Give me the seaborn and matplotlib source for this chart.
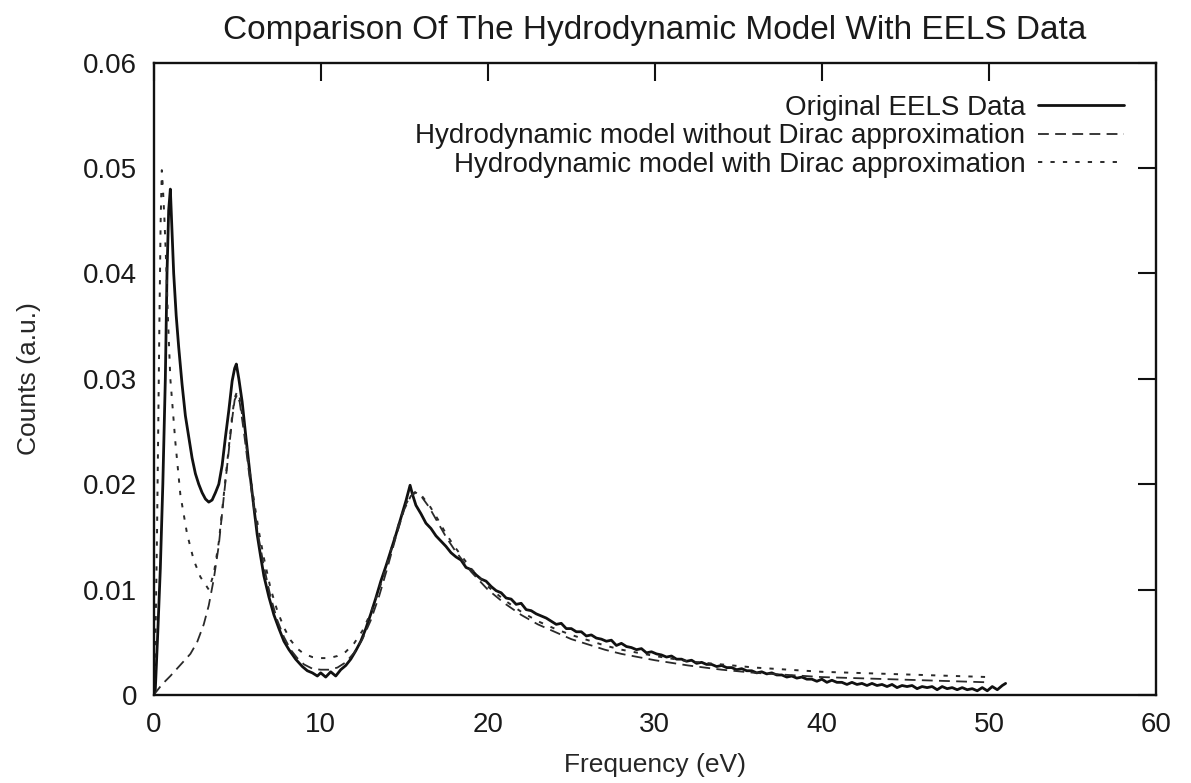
import matplotlib
matplotlib.use("Agg")
import matplotlib.pyplot as plt
import seaborn as sns

# ---------------- data ----------------
eels_x = [0.0, 0.1, 0.25, 0.4, 0.55, 0.7, 0.8, 0.9, 1.0, 1.1, 1.2, 1.35, 1.5, 1.7, 1.9,
          2.1, 2.3, 2.5, 2.7, 2.9, 3.1, 3.3, 3.5, 3.7, 3.9, 4.1, 4.3, 4.5, 4.7, 4.85,
          4.95, 5.1, 5.3, 5.5, 5.8, 6.0, 6.2, 6.4, 6.6, 6.9, 7.2, 7.5, 7.8, 8.1, 8.5,
          8.9, 9.2, 9.5, 9.8, 10.0, 10.3, 10.6, 10.9, 11.2, 11.5, 11.8, 12.1, 12.4, 12.7,
          13.0, 13.3, 13.6, 13.9, 14.2, 14.5, 14.8, 15.1, 15.35, 15.5, 15.7, 16.0, 16.3,
          16.6, 16.9, 17.2, 17.5, 17.8, 18.1, 18.4, 18.7, 19.0, 19.3, 19.6, 19.9, 20.2,
          20.5, 20.8, 21.1, 21.4, 21.7, 22.0, 22.3, 22.6, 22.9, 23.2, 23.5, 23.8, 24.1,
          24.4, 24.7, 25.0, 25.3, 25.6, 25.9, 26.2, 26.5, 26.8, 27.1, 27.4, 27.7, 28.0,
          28.3, 28.6, 28.9, 29.2, 29.5, 29.8, 30.1, 30.4, 30.7, 31.0, 31.3, 31.6, 31.9,
          32.2, 32.5, 32.8, 33.1, 33.4, 33.7, 34.0, 34.3, 34.6, 34.9, 35.2, 35.5, 35.8,
          36.1, 36.4, 36.7, 37.0, 37.3, 37.6, 37.9, 38.2, 38.5, 38.8, 39.1, 39.4, 39.7,
          40.0, 40.3, 40.6, 40.9, 41.2, 41.5, 41.8, 42.1, 42.4, 42.7, 43.0, 43.3, 43.6,
          43.9, 44.2, 44.5, 44.8, 45.1, 45.4, 45.7, 46.0, 46.3, 46.6, 46.9, 47.2, 47.5,
          47.8, 48.1, 48.4, 48.7, 49.0, 49.3, 49.6, 49.9, 50.2, 50.5, 50.8, 51.0]
eels_y = [0.0, 0.0005, 0.006, 0.012, 0.020, 0.030, 0.040, 0.046, 0.048, 0.044, 0.040, 0.036,
          0.033, 0.0295, 0.0265, 0.0245, 0.0225, 0.0210, 0.0200, 0.0192, 0.0186, 0.0183,
          0.0185, 0.0192, 0.0200, 0.0218, 0.0245, 0.0270, 0.0298, 0.0310, 0.0314, 0.0300,
          0.0278, 0.0248, 0.0205, 0.0178, 0.0152, 0.0132, 0.0113, 0.0093, 0.0076, 0.0063,
          0.0051, 0.0043, 0.0034, 0.0027, 0.0023, 0.0021, 0.0018, 0.0021, 0.0017, 0.0022,
          0.0018, 0.0024, 0.0028, 0.0034, 0.0042, 0.0051, 0.0063, 0.0077, 0.0092, 0.0108,
          0.0122, 0.0137, 0.0152, 0.0168, 0.0184, 0.0199, 0.0190, 0.0180, 0.0172, 0.0163,
          0.0158, 0.0151, 0.0146, 0.0141, 0.0135, 0.0131, 0.0128, 0.0121, 0.0119, 0.0114,
          0.0110, 0.0108, 0.0103, 0.0099, 0.0097, 0.0092, 0.0091, 0.0086, 0.0087, 0.0081,
          0.0080, 0.0077, 0.0075, 0.0073, 0.0070, 0.0067, 0.0068, 0.0063, 0.0063, 0.0060,
          0.0060, 0.0056, 0.0057, 0.0054, 0.0053, 0.0051, 0.0052, 0.0047, 0.0049, 0.0046,
          0.0045, 0.0043, 0.0044, 0.0040, 0.0041, 0.0039, 0.0038, 0.0036, 0.0037, 0.0034,
          0.0034, 0.0032, 0.0033, 0.0030, 0.0031, 0.0029, 0.0029, 0.0027, 0.0028, 0.0026,
          0.0026, 0.0024, 0.0025, 0.0023, 0.0023, 0.0021, 0.0022, 0.0020, 0.0021, 0.0019,
          0.0019, 0.0017, 0.0018, 0.0016, 0.0017, 0.0015, 0.0015, 0.0013, 0.0015, 0.0012,
          0.0014, 0.0012, 0.0012, 0.0010, 0.0012, 0.0010, 0.0011, 0.0009, 0.0011, 0.0009,
          0.0010, 0.0008, 0.0010, 0.0007, 0.0009, 0.0008, 0.0009, 0.0006, 0.0008, 0.0007,
          0.0008, 0.0005, 0.0008, 0.0006, 0.0007, 0.0005, 0.0007, 0.0005, 0.0006, 0.0004,
          0.0007, 0.0004, 0.0008, 0.0005, 0.0009, 0.0011]

nodirac_x = [0.0, 0.5, 1.0, 1.4, 1.8, 2.2, 2.6, 3.0, 3.3, 3.6, 3.9, 4.2, 4.5, 4.7, 4.85,
             5.0, 5.15, 5.4, 5.7, 6.0, 6.3, 6.6, 7.0, 7.4, 7.8, 8.2, 8.6, 9.0, 9.5, 10.0,
             10.5, 11.0, 11.5, 12.0, 12.5, 13.0, 13.5, 14.0, 14.5, 15.0, 15.4, 15.7, 16.0,
             16.5, 17.0, 17.5, 18.0, 19.0, 20.0, 21.0, 22.0, 23.0, 24.0, 25.0, 26.0, 27.0,
             28.0, 29.0, 30.0, 32.0, 34.0, 36.0, 38.0, 40.0, 42.0, 44.0, 46.0, 48.0, 50.0]
nodirac_y = [0.0, 0.0010, 0.0018, 0.0025, 0.0032, 0.0039, 0.0050, 0.0067, 0.0085, 0.0110,
             0.0142, 0.0188, 0.0232, 0.0262, 0.0280, 0.0285, 0.0278, 0.0250, 0.0212, 0.0178,
             0.0148, 0.0122, 0.0093, 0.0071, 0.0055, 0.0043, 0.0035, 0.0029, 0.0025, 0.0024,
             0.0024, 0.0026, 0.0031, 0.0040, 0.0053, 0.0071, 0.0094, 0.0121, 0.0150, 0.0176,
             0.0189, 0.0192, 0.0189, 0.0178, 0.0164, 0.0150, 0.0138, 0.0117, 0.0100, 0.0087,
             0.0076, 0.0067, 0.0060, 0.0053, 0.0048, 0.0043, 0.0039, 0.0036, 0.0033, 0.0028,
             0.0024, 0.0021, 0.0019, 0.0017, 0.0016, 0.0015, 0.0014, 0.0013, 0.0012]

dirac_x = [0.0, 0.1, 0.2, 0.28, 0.35, 0.42, 0.49, 0.56, 0.65, 0.75, 0.85, 1.0, 1.15, 1.3,
           1.6, 2.0, 2.4, 2.8, 3.3, 3.6, 3.9, 4.2, 4.5, 4.7, 4.85, 5.0, 5.15, 5.4, 5.7,
           6.0, 6.3, 6.6, 7.0, 7.4, 7.8, 8.2, 8.6, 9.0, 9.5, 10.0, 10.5, 11.0, 11.5, 12.0,
           12.5, 13.0, 13.5, 14.0, 14.5, 15.0, 15.4, 15.7, 16.0, 16.5, 17.0, 17.5, 18.0,
           19.0, 20.0, 21.0, 22.0, 23.0, 24.0, 25.0, 26.0, 27.0, 28.0, 29.0, 30.0, 32.0,
           34.0, 36.0, 38.0, 40.0, 42.0, 44.0, 46.0, 48.0, 50.0]
dirac_y = [0.0, 0.004, 0.015, 0.026, 0.036, 0.045, 0.0498, 0.048, 0.045, 0.041, 0.036,
           0.030, 0.027, 0.024, 0.019, 0.0153, 0.0128, 0.0112, 0.0100, 0.0115, 0.0145,
           0.0190, 0.0235, 0.0265, 0.0282, 0.0288, 0.0282, 0.0255, 0.0218, 0.0185, 0.0155,
           0.0130, 0.0101, 0.0080, 0.0064, 0.0052, 0.0044, 0.0039, 0.0036, 0.0035, 0.0035,
           0.0037, 0.0041, 0.0049, 0.0061, 0.0078, 0.0100, 0.0126, 0.0154, 0.0178, 0.0190,
           0.0193, 0.0190, 0.0180, 0.0167, 0.0153, 0.0141, 0.0120, 0.0103, 0.0090, 0.0079,
           0.0070, 0.0063, 0.0057, 0.0052, 0.0047, 0.0043, 0.0040, 0.0037, 0.0032, 0.0029,
           0.0026, 0.0024, 0.0022, 0.0021, 0.0020, 0.0019, 0.0018, 0.0017]

series_labels = ["Original EELS Data",
                 "Hydrodynamic model without Dirac approximation",
                 "Hydrodynamic model with Dirac approximation"]
x_ticks = [0, 10, 20, 30, 40, 50, 60]
y_ticks = [0, 0.01, 0.02, 0.03, 0.04, 0.05, 0.06]
y_ticklabels = ["0", "0.01", "0.02", "0.03", "0.04", "0.05", "0.06"]

# ---------------- figure ----------------
sns.set_theme(style="white")
plt.rcParams["font.family"] = ["Liberation Sans", "DejaVu Sans"]
plt.rcParams["text.color"] = "#1a1a1a"

fig = plt.figure(figsize=(11.91, 7.83), dpi=100)
ax = fig.add_axes([0.129, 0.1124, 0.9706 - 0.129, 0.920 - 0.1124])

sns.lineplot(x=eels_x, y=eels_y, ax=ax, estimator=None, sort=False,
             color="#111111", linewidth=2.0, label=series_labels[0])
sns.lineplot(x=nodirac_x, y=nodirac_y, ax=ax, estimator=None, sort=False,
             color="#2a2a2a", linewidth=1.3, label=series_labels[1])
sns.lineplot(x=dirac_x, y=dirac_y, ax=ax, estimator=None, sort=False,
             color="#2a2a2a", linewidth=1.4, label=series_labels[2])
lines = ax.get_lines()
lines[1].set_linestyle((0, (6, 3.5)))
lines[2].set_linestyle((0, (2.2, 4.2)))

ax.set_xlim(0, 60)
ax.set_ylim(0, 0.06)
ax.set_xticks(x_ticks)
ax.set_xticklabels([str(t) for t in x_ticks])
ax.set_yticks(y_ticks)
ax.set_yticklabels(y_ticklabels)

ax.tick_params(axis="both", which="major", direction="in", length=13, width=1.5,
               top=True, right=True, labelsize=20, pad=12, colors="#111111",
               labelcolor="#1a1a1a")
for sp in ax.spines.values():
    sp.set_visible(True)
    sp.set_linewidth(1.7)
    sp.set_color("#111111")

ax.set_xlabel("Frequency (eV)", fontsize=19, labelpad=11)
ax.set_ylabel("Counts (a.u.)", fontsize=19, labelpad=30)
ax.set_title("Comparison Of The Hydrodynamic Model With EELS Data", fontsize=24, pad=17)

leg = ax.legend(loc="upper right", frameon=False, markerfirst=False, fontsize=20,
                handlelength=3.1, handletextpad=0.45, labelspacing=0.1,
                borderaxespad=0.75)

fig.savefig("out.png", dpi=100)
